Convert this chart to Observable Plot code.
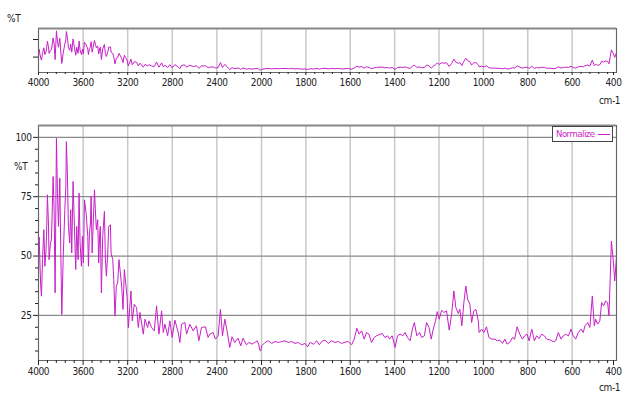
<!DOCTYPE html>
<html><head><meta charset="utf-8">
<script src="https://cdn.jsdelivr.net/npm/d3@7"></script>
<script src="https://cdn.jsdelivr.net/npm/@observablehq/plot@0.6"></script>
<style>
body{margin:0;background:#fff;}
#wrap{position:relative;width:622px;height:394px;overflow:hidden;font-family:"Liberation Sans Narrow","DejaVu Sans Condensed","Liberation Sans",Arial,sans-serif;}
#topChart,#mainChart{position:absolute;left:0;}
#topChart{top:0;} #mainChart{top:110px;}
.lbl{position:absolute;font-size:10px;color:#222;letter-spacing:-0.4px;line-height:10px;}
#legend{position:absolute;left:552px;top:126px;width:59px;height:14px;border:1px solid #444;background:#fff;font-size:9.5px;line-height:14px;color:#c71fc7;letter-spacing:-0.5px;white-space:nowrap;}
#legend .t{position:absolute;left:3px;top:0;}
#legend .ln{position:absolute;left:45px;top:7px;width:12px;height:1px;background:#c71fc7;}
</style></head>
<body><div id="wrap">
<div id="topChart"></div><div id="mainChart"></div>
<div class="lbl" style="left:7px;top:14px;">%T</div>
<div class="lbl" style="left:599px;top:96px;">cm-1</div>
<div class="lbl" style="left:14px;top:162px;">%T</div>
<div class="lbl" style="left:599px;top:383px;">cm-1</div>
<div id="legend"><span class="t">Normalize</span><span class="ln"></span></div>
</div>
<script>
const wavenumber = [
4000,3994,3986,3980,3973,3964,3952,3943,3934,3928,3920,3911,3905,3893,3884,3875,3869,3860,3851,3839,3830,3821,3809,3800,3791,3779,3764,3755,3750,3741,3732,3720,3711,3702,3690,3678,3666,3657,3645,3636,3627,3615,3606,3597,
3588,3573,3558,3552,3543,3534,3528,3519,3510,3498,3490,3481,3469,3460,3451,3445,3436,3424,3409,3400,3391,3379,3370,3355,3349,3334,3325,3314,3302,3290,3278,3266,3254,3242,3230,3218,3206,3194,
3171,3159,3141,3120,3105,3090,3060,3045,3021,3010,2986,2962,2941,2920,2896,2881,2866,2842,2822,2801,2777,2747,2732,2717,2687,2672,2643,2613,2583,2562,2538,2502,2479,2464,2434,2413,2389,2368,2350,2329,2309,2285,2264,2240,2210,2186,2165,2136,2112,2085,2061,2040,2025,2016,2006,
1999,1984,1969,1954,1939,1924,1909,1894,1879,1864,1849,1834,1819,1804,1792,1781,1766,1751,1739,1729,1714,1699,1684,1669,1654,1639,1624,1609,1594,1582,1570,1560,1549,1537,1527,1516,1504,1492,1482,1471,1456,1444,1432,1422,1411,1398,
1387,1375,1363,1353,1342,1330,1320,1311,1300,1288,1278,1266,1256,1245,1235,1226,1215,1208,1199,1188,1178,1166,1154,1143,1133,1124,1113,1106,1097,1088,1079,1071,1061,1053,1043,1034,1023,1019,1008,998,986,975,963,948,938,926,914,903,893,881,869,859,848,836,824,814,803,794,
782,770,760,749,737,725,715,700,685,674,662,650,640,629,617,605,595,584,572,560,550,542,530,520,509,500,494,485,475,467,458,449,440,434,428,423,415,408,402,400];
const transmittance = [
42,58,45.7,37.3,33.1,48.5,61.1,45.7,51.3,58.3,75.8,63.9,48.5,55.5,56.9,72.3,83.5,69.5,34.5,99.6,76.5,62.5,82.8,51.3,25.4,48.5,69.5,79.3,98.2,84.9,62.5,55.5,69.5,51.3,81.4,62.5,44.3,62.5,48.5,76.5,55.5,45.7,58.3,47.1,
73.7,68.1,58.3,45.7,59.7,63.9,75.1,51.3,62.5,77.9,69.5,61.1,65.3,47.1,59.7,62.5,34.5,58.3,68.8,48.5,41.5,51.3,62.5,63.2,51.3,48.5,40.1,24.7,37.3,38.7,48.5,42.9,37.3,27.5,44.3,38.7,33.1,19.8,
35.3,22.7,29.7,28.3,19.9,26.2,17.1,23.4,19.9,22.7,19.9,18.5,29.0,17.1,26.9,17.8,21.3,16.4,22.7,15.7,23.0,17.8,13.6,21.3,22.0,17.1,21.3,18.5,20.6,14.3,19.9,20.2,15.7,17.1,17.8,15.0,16.4,27.6,16.4,23.4,18.5,11.5,16.0,13.6,15.4,12.2,15.4,12.6,13.6,12.9,13.6,14.3,12.9,10.4,10.1,
12.2,13.6,14.3,13.2,14.0,13.6,14.0,14.3,13.6,14.0,13.2,13.6,12.6,13.2,11.8,13.6,12.9,14.3,12.6,14.0,14.6,13.2,14.3,13.6,14.0,13.2,13.7,14.0,12.6,15.0,19.6,17.1,18.5,15.0,17.8,17.1,13.6,15.7,16.4,16.8,17.4,15.7,16.4,15.0,16.4,11.5,
16.4,17.1,16.4,17.8,15.7,14.3,19.2,22.0,16.4,17.8,15.7,16.4,22.0,19.9,15.0,19.2,23.0,26.6,23.4,27.2,26.2,26.9,18.8,25.5,35.3,28.3,25.8,27.6,20.6,30.4,37.4,31.8,29.7,22.0,26.9,27.6,22.7,17.8,19.2,17.8,20.2,15.7,15.0,15.0,14.3,14.6,13.2,15.0,12.9,13.6,15.7,15.0,20.2,17.1,15.0,16.4,17.1,14.3,
19.2,14.3,16.4,15.3,17.1,16.4,15.0,14.7,13.9,14.3,17.8,15.0,16.4,17.1,16.4,19.2,16.4,15.0,17.8,19.2,17.8,20.6,22.0,19.9,33.2,20.6,23.4,21.3,22.7,30.4,29.0,31.1,30.4,24.8,41.6,56.3,48.6,39.5,47.2,50];

const majorTicks = [4000,3600,3200,2800,2400,2000,1800,1600,1400,1200,1000,800,600,400];
const yTicksMain = [25,50,75,100];
const yTicksTop = [40,80];

const data = wavenumber.map((w, i) => ({w, t: transmittance[i]}));
const innerTicks = majorTicks.slice(0, -1);
const lastTick = majorTicks.slice(-1);
const minorX = [...d3.range(4000, 2000, -80), ...d3.range(2000, 400, -40)].filter(v => !majorTicks.includes(v));
const minorY = d3.range(10, 105, 5).filter(v => !yTicksMain.includes(v));

const LINE = "#c71fc7";
const FONT = '"Liberation Sans Narrow","DejaVu Sans Condensed","Liberation Sans",Arial,sans-serif';
const xScale = {type: "linear", domain: [4000, 2000, 400], range: [38, 261, 616]};
const chartStyle = {fontFamily: FONT, fontSize: "10px", color: "#222", background: "transparent", letterSpacing: "-0.4px"};
const fmt = d => String(d);

const topChart = Plot.plot({
  width: 622, height: 110, marginTop: 28, marginBottom: 38, marginLeft: 38, marginRight: 6,
  x: xScale, y: {domain: [5, 105]}, style: chartStyle,
  marks: [
    Plot.gridX({ticks: majorTicks, stroke: "#c8c8c8", strokeOpacity: 1, strokeWidth: 1.5}),
    Plot.line(data, {x: "w", y: "t", stroke: LINE, strokeWidth: 1, clip: true}),
    Plot.frame({stroke: "#666"}),
    Plot.ruleY([105], {stroke: "#888", strokeWidth: 2}),
    Plot.axisY({ticks: yTicksTop, tickSize: 5, tickFormat: () => "", label: null}),
    Plot.axisX({ticks: innerTicks, tickSize: 3, tickPadding: 3, tickFormat: fmt, label: null}),
    Plot.axisX({ticks: lastTick, tickSize: 3, tickPadding: 3, tickFormat: fmt, label: null, dx: -3}),
    Plot.axisX({ticks: minorX, tickSize: 2, tickFormat: () => "", label: null})
  ]
});
document.getElementById("topChart").append(topChart);

const mainChart = Plot.plot({
  width: 622, height: 284, marginTop: 15, marginBottom: 34, marginLeft: 38, marginRight: 6,
  x: xScale, y: {domain: [6, 105]}, style: chartStyle,
  marks: [
    Plot.gridX({ticks: majorTicks, stroke: "#c8c8c8", strokeOpacity: 1, strokeWidth: 1.5}),
    Plot.gridY({ticks: yTicksMain, stroke: "#8a8a8a", strokeOpacity: 1, strokeWidth: 1.2}),
    Plot.line(data, {x: "w", y: "t", stroke: LINE, strokeWidth: 1, clip: true}),
    Plot.frame({stroke: "#666"}),
    Plot.ruleY([105], {stroke: "#888", strokeWidth: 2}),
    Plot.axisY({ticks: yTicksMain, tickSize: 5, tickPadding: 2, tickFormat: fmt, label: null}),
    Plot.axisY({ticks: minorY, tickSize: 3, tickFormat: () => "", label: null}),
    Plot.axisX({ticks: innerTicks, tickSize: 5, tickPadding: 2, tickFormat: fmt, label: null}),
    Plot.axisX({ticks: lastTick, tickSize: 5, tickPadding: 2, tickFormat: fmt, label: null, dx: -3}),
    Plot.axisX({ticks: minorX, tickSize: 3, tickFormat: () => "", label: null})
  ]
});
document.getElementById("mainChart").append(mainChart);
</script>
</body></html>
